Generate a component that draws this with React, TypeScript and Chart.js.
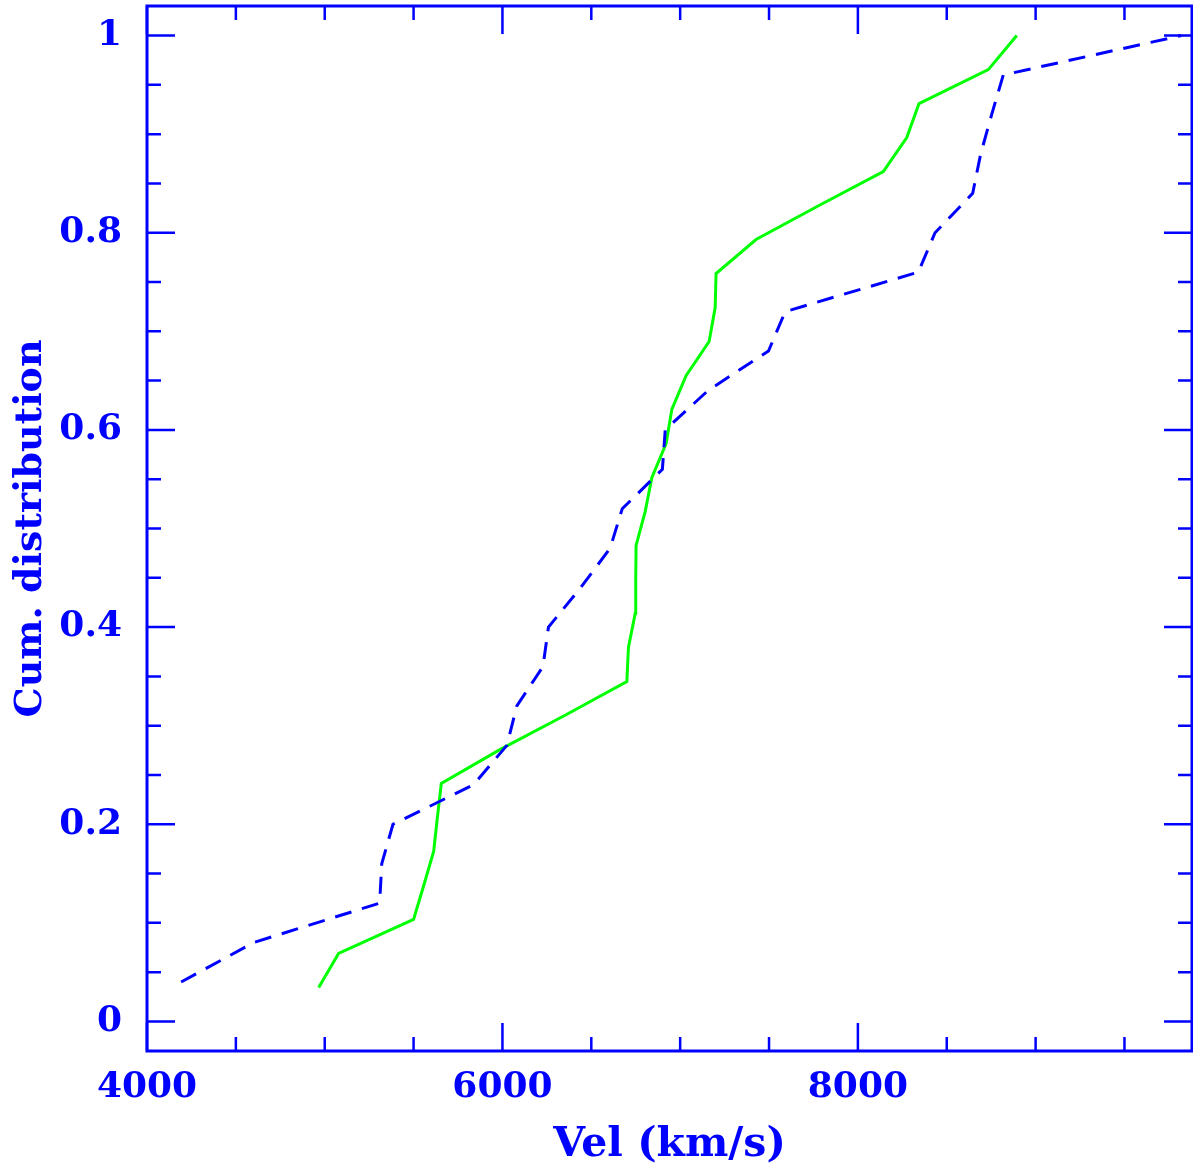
import React, { useEffect, useRef } from "react";
import { Chart, registerables } from "chart.js";

Chart.register(...registerables);

// Cumulative distributions (velocity in km/s)
const blueVel = [4192, 4600, 5309, 5321, 5384, 5837, 6025, 6081, 6228, 6259, 6440, 6606, 6674, 6900, 6916, 7157, 7497, 7591, 8340, 8434, 8646, 8691, 8753, 8818, 9820];
const blueCum = [0.04, 0.08, 0.12, 0.16, 0.2, 0.24, 0.28, 0.32, 0.36, 0.4, 0.44, 0.48, 0.52, 0.56, 0.6, 0.64, 0.68, 0.72, 0.76, 0.8, 0.84, 0.88, 0.92, 0.96, 1.0];

const greenVel = [4966, 5078, 5500, 5557, 5613, 5634, 5656, 5988, 6350, 6700, 6709, 6747, 6750, 6752, 6803, 6841, 6921, 6953, 7034, 7163, 7197, 7202, 7427, 7781, 8143, 8275, 8344, 8734, 8894];
const greenCum = [0.0345, 0.069, 0.1034, 0.1379, 0.1724, 0.2069, 0.2414, 0.2759, 0.3103, 0.3448, 0.3793, 0.4138, 0.4483, 0.4828, 0.5172, 0.5517, 0.5862, 0.6207, 0.6552, 0.6897, 0.7241, 0.7586, 0.7931, 0.8276, 0.8621, 0.8966, 0.931, 0.9655, 1.0];

const xMajorTicks = [4000, 6000, 8000];
const yMajorTicks = [0, 0.2, 0.4, 0.6, 0.8, 1];
const xMinorStep = 500;
const yMinorStep = 0.05;
const xRange = [4000, 9880];
const yRange = [-0.03, 1.03];

const xTitle = "Vel (km/s)";
const yTitle = "Cum. distribution";

const BLUE = "#0000ff";
const GREEN = "#00ff00";
const FONT = "'DejaVu Serif', serif";

const framePlugin = {
  id: "pgframe",
  afterDatasetsDraw(chart: any) {
    const { ctx, chartArea: a, scales } = chart;
    const xs = scales.x;
    const ys = scales.y;
    ctx.save();
    ctx.strokeStyle = BLUE;
    ctx.lineCap = "butt";
    ctx.lineWidth = 2.5;
    const isMajor = (v: number, arr: number[]) => arr.some((m) => Math.abs(m - v) < 1e-6);
    for (let v = xRange[0]; v <= xRange[1] + 1e-6; v += xMinorStep) {
      const px = xs.getPixelForValue(v);
      const len = isMajor(v, xMajorTicks) ? 28 : 14;
      ctx.beginPath();
      ctx.moveTo(px, a.bottom);
      ctx.lineTo(px, a.bottom - len);
      ctx.moveTo(px, a.top);
      ctx.lineTo(px, a.top + len);
      ctx.stroke();
    }
    for (let i = 0; i * yMinorStep <= yRange[1] + 1e-6; i++) {
      const v = Math.round(i * yMinorStep * 100) / 100;
      const py = ys.getPixelForValue(v);
      const len = isMajor(v, yMajorTicks) ? 28 : 14;
      ctx.beginPath();
      ctx.moveTo(a.left, py);
      ctx.lineTo(a.left + len, py);
      ctx.moveTo(a.right, py);
      ctx.lineTo(a.right - len, py);
      ctx.stroke();
    }
    ctx.lineWidth = 3;
    ctx.strokeRect(a.left, a.top, a.right - a.left, a.bottom - a.top);
    ctx.restore();
  },
};

export default function App() {
  const ref = useRef<HTMLCanvasElement>(null);
  useEffect(() => {
    document.body.style.margin = "0";
    const canvas = ref.current!;
    const chart = new Chart(canvas, {
      type: "line",
      data: {
        datasets: [
          {
            data: blueVel.map((v, i) => ({ x: v, y: blueCum[i] })),
            borderColor: BLUE,
            borderWidth: 3,
            borderDash: [17, 11],
            pointRadius: 0,
            tension: 0,
            fill: false,
          },
          {
            data: greenVel.map((v, i) => ({ x: v, y: greenCum[i] })),
            borderColor: GREEN,
            borderWidth: 3,
            pointRadius: 0,
            tension: 0,
            fill: false,
          },
        ],
      },
      options: {
        animation: false,
        responsive: false,
        devicePixelRatio: 1,
        layout: { padding: { top: 6, right: 1, left: 0, bottom: 0 } },
        plugins: { legend: { display: false }, tooltip: { enabled: false } },
        scales: {
          x: {
            type: "linear",
            min: xRange[0],
            max: xRange[1],
            afterBuildTicks: (s: any) => {
              s.ticks = xMajorTicks.map((v) => ({ value: v }));
            },
            afterFit: (s: any) => {
              s.height = 121;
              s.paddingLeft = 0;
              s.paddingRight = 0;
            },
            grid: { display: false, drawTicks: false },
            border: { display: false },
            ticks: {
              color: BLUE,
              padding: 15,
              maxRotation: 0,
              font: { family: FONT, size: 36, weight: "bold" },
              callback: (v: any) => String(v),
            },
            title: {
              display: true,
              text: xTitle,
              color: BLUE,
              font: { family: FONT, size: 41, weight: "bold" },
              padding: { top: 0, bottom: 2 },
            },
          },
          y: {
            type: "linear",
            min: yRange[0],
            max: yRange[1],
            afterBuildTicks: (s: any) => {
              s.ticks = yMajorTicks.map((v) => ({ value: v }));
            },
            afterFit: (s: any) => {
              s.width = 147;
              s.paddingTop = 0;
              s.paddingBottom = 0;
            },
            grid: { display: false, drawTicks: false },
            border: { display: false },
            ticks: {
              color: BLUE,
              padding: 25,
              font: { family: FONT, size: 36, weight: "bold" },
              callback: (v: any) => String(Math.round(v * 10) / 10),
            },
            title: {
              display: true,
              text: yTitle,
              color: BLUE,
              font: { family: FONT, size: 38, weight: "bold" },
              padding: { top: 8, bottom: 0 },
            },
          },
        },
      },
      plugins: [framePlugin],
    });
    return () => chart.destroy();
  }, []);
  return (
    <div style={{ position: "absolute", left: 0, top: 0, width: 1193, height: 1172, background: "#fff" }}>
      <canvas ref={ref} width={1193} height={1172} style={{ width: 1193, height: 1172, display: "block" }} />
    </div>
  );
}
